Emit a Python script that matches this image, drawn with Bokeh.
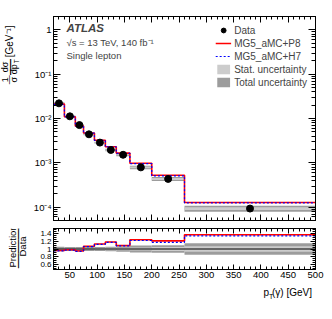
import math
from bokeh.plotting import figure
from bokeh.models import (Range1d, LogAxis, LinearAxis, SingleIntervalTicker, FixedTicker,
                          LogTicker, Label, Legend, LegendItem, CustomJSTickFormatter)
from bokeh.layouts import column, row
from bokeh.embed import file_html
from bokeh.resources import INLINE

# ---------------- data ----------------
edges = [20, 40, 60, 75, 95, 115, 135, 160, 200, 260, 500]
data = [0.022, 0.0112, 0.0071, 0.0044, 0.00286, 0.00195, 0.00152, 0.00079, 0.000434, 0.000093]
ratio_p8 = [0.96, 0.98, 0.95, 1.07, 1.13, 1.18, 1.09, 1.24, 1.21, 1.37]
ratio_h7 = [0.95, 0.97, 0.94, 1.06, 1.12, 1.17, 1.08, 1.22, 1.17, 1.34]
stat_rel = [0.015, 0.015, 0.02, 0.02, 0.025, 0.03, 0.03, 0.04, 0.05, 0.07]
tot_rel = [0.06, 0.05, 0.05, 0.05, 0.05, 0.06, 0.07, 0.09, 0.10, 0.15]
main_y_ticks = [1.0, 0.1, 0.01, 0.001, 0.0001]
main_y_labels = ["1", "10\u207b\u00b9", "10\u207b\u00b2", "10\u207b\u00b3", "10\u207b\u2074"]
ratio_ticks = [0.6, 0.8, 1.0, 1.2, 1.4]
ratio_labels = ["0.6", "0.8", "1", "1.2", "1.4"]
ratio_minor = [0.5, 0.55, 0.65, 0.7, 0.75, 0.85, 0.9, 0.95, 1.05, 1.1, 1.15, 1.25, 1.3, 1.35, 1.45, 1.5]
ratio_ref = [1.0, 1.0]
legend_labels = ["Data", "MG5_aMC+P8", "MG5_aMC+H7", "Stat. uncertainty", "Total uncertainty"]

lo = edges[:-1]
hi = edges[1:]
centers = [(a + b) / 2 for a, b in zip(lo, hi)]
pred_p8 = [d * r for d, r in zip(data, ratio_p8)]
pred_h7 = [d * r for d, r in zip(data, ratio_h7)]

FONT = "Liberation Sans"
RED = "#ff0000"
BLUE = "#0000ff"
STAT = "#cccccc"
TOT = "#9c9c9c"

W0 = 28          # width of the y-title strip
H1 = 226         # main panel height
H2 = 57          # ratio panel height
H3 = 20          # x-title strip height


def style_axis(ax, labels=True, size="9.5px", tin=6, min_in=3):
    ax.major_tick_in = tin
    ax.major_tick_out = 0
    ax.minor_tick_in = min_in
    ax.minor_tick_out = 0
    ax.axis_line_color = "black"
    ax.major_tick_line_color = "black"
    ax.minor_tick_line_color = "black"
    ax.major_label_text_font = FONT
    ax.major_label_text_color = "black"
    if labels:
        ax.major_label_text_font_size = size
        ax.major_label_standoff = 2
    else:
        ax.major_label_text_font_size = "1px"
        ax.major_label_text_alpha = 0
        ax.major_label_standoff = 0


def blank_labels(ax, size, standoff):
    # tick marks only: blank labels that still give the margin its height
    ax.formatter = CustomJSTickFormatter(code="return ' '")
    ax.major_label_text_font_size = size
    ax.major_label_text_alpha = 1
    ax.major_label_standoff = standoff


def strip(width, height):
    f = figure(width=width, height=height, x_range=Range1d(0, width), y_range=Range1d(height, 0),
               output_backend="svg", toolbar_location=None, min_border=0,
               x_axis_location=None, y_axis_location=None, outline_line_color=None,
               background_fill_color="white", border_fill_color="white")
    f.grid.visible = False
    return f


def txt(fig, x, y, text, size, angle=0.0, align="center", **kw):
    fig.add_layout(Label(x=x, y=y, text=text, angle=angle, text_font=FONT,
                         text_font_size=size, text_align=align, text_baseline="middle",
                         text_color="black", **kw))


V = math.pi / 2

# ---------------- main panel ----------------
p = figure(width=332 - W0, height=H1, x_range=Range1d(20, 500),
           y_range=Range1d(5e-5, 2), y_axis_type="log", output_backend="svg",
           toolbar_location=None, min_border_left=53 - W0, min_border_right=17,
           min_border_top=0, min_border_bottom=0, outline_line_color="black",
           background_fill_color="white", border_fill_color="white")
p.grid.visible = False

p.xaxis.ticker = SingleIntervalTicker(interval=50, num_minor_ticks=5)
style_axis(p.xaxis[0], labels=False, tin=6, min_in=3)
blank_labels(p.xaxis[0], "1px", 2)
p.yaxis.ticker = LogTicker(num_minor_ticks=10)
p.yaxis.major_label_overrides = dict(zip(main_y_ticks, main_y_labels))
style_axis(p.yaxis[0], labels=True, size="9.5px", tin=7, min_in=4)

top_ax = LinearAxis(ticker=SingleIntervalTicker(interval=50, num_minor_ticks=5))
style_axis(top_ax, labels=False, tin=6, min_in=3)
blank_labels(top_ax, "9.5px", 2)
p.add_layout(top_ax, "above")
right_ax = LogAxis(ticker=LogTicker(num_minor_ticks=10))
style_axis(right_ax, labels=False, tin=7, min_in=4)
p.add_layout(right_ax, "right")

r_tot = p.quad(left=lo, right=hi, bottom=[d * (1 - t) for d, t in zip(data, tot_rel)],
               top=[d * (1 + t) for d, t in zip(data, tot_rel)], fill_color=TOT, line_color=None)
r_stat = p.quad(left=lo, right=hi, bottom=[d * (1 - s) for d, s in zip(data, stat_rel)],
                top=[d * (1 + s) for d, s in zip(data, stat_rel)], fill_color=STAT, line_color=None)
r_p8 = p.step(x=edges, y=pred_p8 + [pred_p8[-1]], mode="after", line_color=RED, line_width=1.6)
r_h7 = p.step(x=edges, y=pred_h7 + [pred_h7[-1]], mode="after", line_color=BLUE,
              line_width=1.2, line_dash="2 2")
r_data = p.scatter(x=centers, y=data, size=7, color="black")

leg = Legend(items=[LegendItem(label=legend_labels[0], renderers=[r_data]),
                    LegendItem(label=legend_labels[1], renderers=[r_p8]),
                    LegendItem(label=legend_labels[2], renderers=[r_h7]),
                    LegendItem(label=legend_labels[3], renderers=[r_stat]),
                    LegendItem(label=legend_labels[4], renderers=[r_tot])],
             location="top_right", margin=8, padding=0, spacing=1,
             glyph_width=16, glyph_height=12, label_height=12, label_standoff=3,
             label_text_font=FONT, label_text_font_size="10px",
             border_line_color=None, background_fill_alpha=0)
p.add_layout(leg)

# ATLAS header (positioned in the panel's own coordinates)
p.add_layout(Label(x=43.8, y=1.08, text="ATLAS", text_font=FONT,
                   text_font_style="bold italic", text_font_size="11.5px",
                   text_baseline="middle"))
p.add_layout(Label(x=43.8, y=0.51, text="\u221as = 13 TeV, 140 fb\u207b\u00b9",
                   text_font=FONT, text_font_size="9.5px", text_baseline="middle"))
p.add_layout(Label(x=43.8, y=0.26, text="Single lepton",
                   text_font=FONT, text_font_size="9.5px", text_baseline="middle"))

# y-title strip for the main panel (rotated, top aligned)
ly1 = strip(W0, H1)
txt(ly1, 8.5, 27.5, "[GeV\u207b\u00b9]", "10px", V)
txt(ly1, 4.2, 56, "d\u03c3", "9px", V)
txt(ly1, 8.7, 56, "\u2014", "16px", V)
txt(ly1, 13.2, 58.5, "dp", "9px", V)
txt(ly1, 15.5, 49.5, "T", "6.5px", V)
txt(ly1, 4.2, 70, "1", "9px", V)
txt(ly1, 8.7, 70, "\u2014", "9px", V)
txt(ly1, 13.2, 70, "\u03c3", "9px", V)

# ---------------- ratio panel ----------------
r = figure(width=332 - W0, height=H2, x_range=p.x_range, y_range=Range1d(0.47, 1.53),
           output_backend="svg", toolbar_location=None, min_border_left=53 - W0,
           min_border_right=17, min_border_top=2, min_border_bottom=14,
           outline_line_color="black", background_fill_color="white",
           border_fill_color="white")
r.grid.visible = False
r.xaxis.ticker = SingleIntervalTicker(interval=50, num_minor_ticks=5)
style_axis(r.xaxis[0], labels=True, size="9.5px", tin=5, min_in=3)
r.yaxis.ticker = FixedTicker(ticks=ratio_ticks, minor_ticks=ratio_minor)
r.yaxis.major_label_overrides = dict(zip(ratio_ticks, ratio_labels))
style_axis(r.yaxis[0], labels=True, size="8px", tin=5, min_in=3)

rtop = LinearAxis(ticker=SingleIntervalTicker(interval=50, num_minor_ticks=5))
style_axis(rtop, labels=False, tin=5, min_in=3)
r.add_layout(rtop, "above")
rright = LinearAxis(ticker=FixedTicker(ticks=ratio_ticks, minor_ticks=ratio_minor))
style_axis(rright, labels=False, tin=5, min_in=3)
r.add_layout(rright, "right")

r.quad(left=lo, right=hi, bottom=[1 - t for t in tot_rel], top=[1 + t for t in tot_rel],
       fill_color=TOT, line_color=None)
r.quad(left=lo, right=hi, bottom=[1 - s for s in stat_rel], top=[1 + s for s in stat_rel],
       fill_color=STAT, line_color=None)
r.line(x=[edges[0], edges[-1]], y=ratio_ref, line_color="black", line_width=1)
r.step(x=edges, y=ratio_p8 + [ratio_p8[-1]], mode="after", line_color=RED, line_width=1.6)
r.step(x=edges, y=ratio_h7 + [ratio_h7[-1]], mode="after", line_color=BLUE,
       line_width=1.2, line_dash="2 2")

# y-title strip for the ratio panel
ly2 = strip(W0, H2)
txt(ly2, 12, 25, "Prediction", "9.5px", V)
txt(ly2, 16.5, 25, "\u2014\u2014\u2014", "14.5px", V)
txt(ly2, 21.5, 25, "Data", "9.5px", V)

# x-title strip
xs = strip(332, H3)
txt(xs, 263, 9, "p", "10px", align="left")
txt(xs, 268.5, 13, "T", "7px", align="left")
txt(xs, 271.5, 9, "(\u03b3) [GeV]", "10px", align="left")

layout = column(row(ly1, p, spacing=0), row(ly2, r, spacing=0), xs, spacing=0)
open("out.html", "w").write(file_html(layout, INLINE))
